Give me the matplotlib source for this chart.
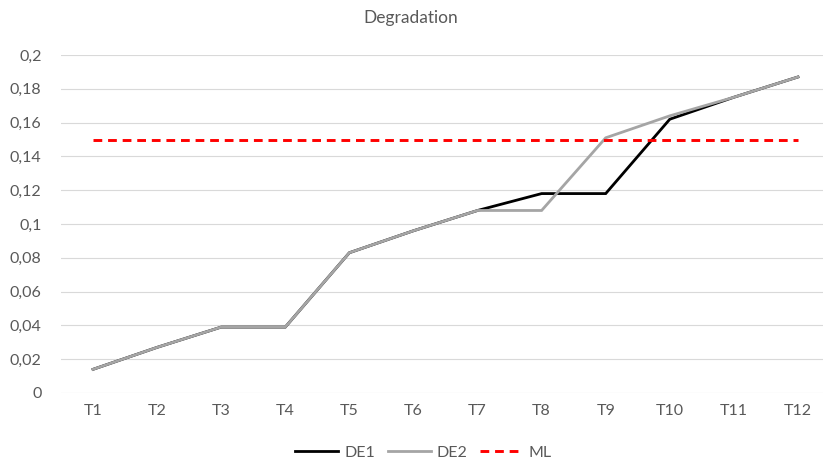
import numpy as np
import matplotlib.pyplot as plt

# categories and series
periods = ['T1', 'T2', 'T3', 'T4', 'T5', 'T6', 'T7', 'T8', 'T9', 'T10', 'T11', 'T12']
de1 = [0.014, 0.027, 0.039, 0.039, 0.083, 0.096, 0.108, 0.118, 0.118, 0.162, 0.175, 0.187]
de2 = [0.014, 0.027, 0.039, 0.039, 0.083, 0.096, 0.108, 0.108, 0.151, 0.164, 0.175, 0.187]
ml = [0.15] * 12
y_ticks = [0, 0.02, 0.04, 0.06, 0.08, 0.1, 0.12, 0.14, 0.16, 0.18, 0.2]
y_labels = ['0', '0,02', '0,04', '0,06', '0,08', '0,1', '0,12', '0,14', '0,16', '0,18', '0,2']

plt.rcParams['font.family'] = ['Lato', 'DejaVu Sans']
TEXT = '#595959'

fig = plt.figure(figsize=(8.23, 4.63), dpi=100)
ax = fig.add_axes([0.0741, 0.1512, 0.9344, 0.730])

x = np.arange(len(periods))
l1, = ax.plot(x, de1, color='black', lw=2.0, solid_joinstyle='miter', zorder=3, label='DE1')
l2, = ax.plot(x, de2, color='#a5a5a5', lw=2.0, solid_joinstyle='miter', zorder=4, label='DE2')
l3, = ax.plot(x, ml, color='#ff0000', lw=2.1, ls=(0, (3, 2)), zorder=5, label='ML')

ax.set_xlim(-0.5, len(periods) - 0.5)
ax.set_ylim(0, 0.2)
ax.set_xticks(x)
ax.set_xticklabels(periods)
ax.set_yticks(y_ticks)
ax.set_yticklabels(y_labels)
ax.tick_params(length=0, labelsize=11.5, colors=TEXT)
ax.tick_params(axis='x', pad=8)
ax.tick_params(axis='y', pad=14)
ax.grid(axis='y', color='#d9d9d9', lw=0.8, zorder=0)
ax.set_axisbelow(True)
for s in ax.spines.values():
    s.set_visible(False)

fig.text(0.4995, 0.962, 'Degradation', ha='center', va='center', fontsize=12.5, color=TEXT)

fig.legend(handles=[l1, l2, l3], loc='center', bbox_to_anchor=(0.5146, 0.022), ncol=3,
           frameon=False, fontsize=11.5, labelcolor=TEXT, handlelength=2.7,
           handletextpad=0.35, columnspacing=0.8)

fig.savefig('out.png', dpi=100)
